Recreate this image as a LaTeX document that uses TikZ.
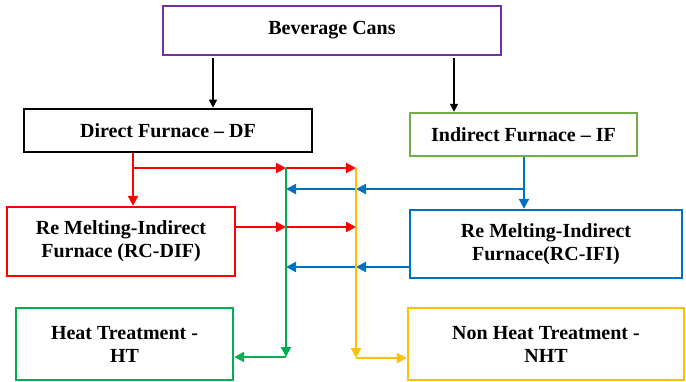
\documentclass[tikz,border=0pt]{standalone}
\usepackage{fontspec}
\setmainfont{Liberation Serif}
\usetikzlibrary{arrows.meta}
\definecolor{cpurple}{RGB}{112,48,160}
\definecolor{cgreenif}{RGB}{112,173,71}
\definecolor{cred}{RGB}{255,0,0}
\definecolor{cblue}{RGB}{0,112,192}
\definecolor{cgreen}{RGB}{0,176,80}
\definecolor{cyellow}{RGB}{255,192,0}
\begin{document}
\begin{tikzpicture}[x=1pt, y=-1pt,
    box/.style={draw, line width=2.4pt, align=center, inner sep=0pt,
        font=\fontsize{20}{23}\selectfont\bfseries},
    link/.style={line width=2.1pt, -{Triangle[length=10pt,width=10pt]}},
    thin link/.style={line width=1.5pt, -{Triangle[length=8pt,width=8pt]}}]
    \useasboundingbox (0,0) rectangle (686,381);
        \node[box, cpurple, text=black, minimum width=338pt, minimum height=49pt] (bev) at (332,30.5) {Beverage Cans};
        \node[box, black, line width=2.7pt, minimum width=288pt, minimum height=43pt] (df) at (168,130.5) {Direct Furnace -- DF};
        \node[box, cgreenif, text=black, minimum width=227pt, minimum height=43pt] (if) at (523.5,134.5) {Indirect Furnace -- IF};
        \node[box, cred, text=black, minimum width=228pt, minimum height=69pt] (rcdif) at (121,241.5) {Re Melting-Indirect\\Furnace (RC-DIF)};
        \node[box, cblue, text=black, minimum width=272pt, minimum height=68pt] (rcifi) at (546,244) {Re Melting-Indirect\\Furnace(RC-IFI)};
        \node[box, cgreen, text=black, minimum width=217pt, minimum height=72pt] (ht) at (124.5,344) {Heat Treatment -\\HT};
        \node[box, cyellow, text=black, minimum width=276pt, minimum height=72pt] (nht) at (546,344) {Non Heat Treatment -\\NHT};
        \coordinate (rb) at (133,168);
        \coordinate (g1) at (286,168);
        \coordinate (y1) at (356,168);
        \coordinate (g2) at (286,357);
        \coordinate (y2) at (356,358);
        \coordinate (bb) at (524,189);
        \draw[thin link, black] ([xshift=-119pt,yshift=-2pt]bev.south) -- ([xshift=45pt]df.north);
        \draw[thin link, black] ([xshift=122pt,yshift=-2pt]bev.south) -- ([xshift=-69.5pt]if.north);
        \draw[link, cred] ([xshift=-35pt]df.south) -- ([xshift=12pt]rcdif.north);
        \draw[link, cred] (rb) -- (g1);
        \draw[link, cred] (g1) -- (y1);
        \draw[link, cblue] ([xshift=0.5pt]if.south) -- ([xshift=-22pt]rcifi.north);
        \draw[link, cblue] (bb) -- (bb -| y1);
        \draw[link, cblue] (bb -| y1) -- (bb -| g1);
        \draw[link, cred] ([yshift=14.5pt]rcdif.east) coordinate (r2) -- (r2 -| g1);
        \draw[link, cred] (r2 -| g1) -- (r2 -| y1);
        \draw[link, cblue] ([yshift=-23pt]rcifi.west) coordinate (b2) -- (b2 -| y1);
        \draw[link, cblue] (b2 -| y1) -- (b2 -| g1);
        \draw[link, cgreen] (g1) -- (g2);
        \draw[link, cgreen] (g2) -- (g2 -| ht.east);
        \draw[link, cyellow] (y1) -- (y2);
        \draw[link, cyellow] (y2) -- (y2 -| nht.west);
\end{tikzpicture}
\end{document}
